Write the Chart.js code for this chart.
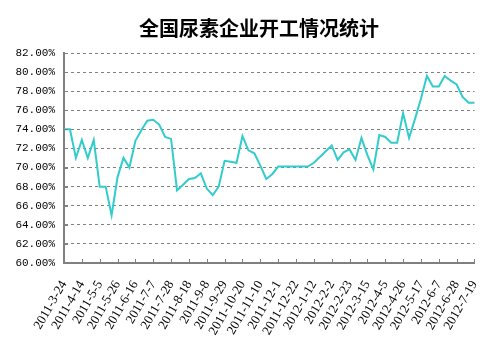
<!DOCTYPE html>
<html>
<head>
<meta charset="utf-8">
<script src="https://cdn.jsdelivr.net/npm/chart.js@4/dist/chart.umd.min.js"></script>
<style>
  html, body { margin: 0; padding: 0; background: #fff; }
  #wrap { width: 503px; height: 351px; }
</style>
</head>
<body>
<div id="wrap"><canvas id="chart"></canvas></div>
<script>
"use strict";

var chartTitle = '全国尿素企业开工情况统计';

var weeks = [
  '2011-3-24', '2011-3-31', '2011-4-7', '2011-4-14', '2011-4-21', '2011-4-28',
  '2011-5-5', '2011-5-12', '2011-5-19', '2011-5-26', '2011-6-2', '2011-6-9',
  '2011-6-16', '2011-6-23', '2011-6-30', '2011-7-7', '2011-7-14', '2011-7-21',
  '2011-7-28', '2011-8-4', '2011-8-11', '2011-8-18', '2011-8-25', '2011-9-1',
  '2011-9-8', '2011-9-15', '2011-9-22', '2011-9-29', '2011-10-6', '2011-10-13',
  '2011-10-20', '2011-10-27', '2011-11-3', '2011-11-10', '2011-11-17', '2011-11-24',
  '2011-12-1', '2011-12-8', '2011-12-15', '2011-12-22', '2011-12-29', '2012-1-5',
  '2012-1-12', '2012-1-19', '2012-1-26', '2012-2-2', '2012-2-9', '2012-2-16',
  '2012-2-23', '2012-3-1', '2012-3-8', '2012-3-15', '2012-3-22', '2012-3-29',
  '2012-4-5', '2012-4-12', '2012-4-19', '2012-4-26', '2012-5-3', '2012-5-10',
  '2012-5-17', '2012-5-24', '2012-5-31', '2012-6-7', '2012-6-14', '2012-6-21',
  '2012-6-28', '2012-7-5', '2012-7-12', '2012-7-19'
];

// operating rate, percent
var rates = [
  74, 74, 71, 72.9, 71, 72.9,
  68, 68, 65, 69, 71, 70,
  72.8, 73.9, 74.9, 75, 74.5, 73.2,
  73, 67.6, 68.2, 68.8, 68.9, 69.4,
  67.8, 67.1, 68, 70.7, 70.6, 70.5,
  73.3, 71.8, 71.5, 70.2, 68.8, 69.3,
  70.1, 70.1, 70.1, 70.1, 70.1, 70.1,
  70.5, 71.1, 71.7, 72.3, 70.8, 71.6,
  71.9, 70.8, 73.1, 71.3, 69.8, 73.4,
  73.2, 72.6, 72.6, 75.7, 73.1, 75.1,
  77.2, 79.6, 78.5, 78.5, 79.6, 79.1,
  78.7, 77.4, 76.8, 76.8
];

var yMin = 60;
var yMax = 82;
var yStep = 2;
var labelEvery = 3;

var lineColor = '#33CCCC';
var axisColor = '#808080';

// small tick marks pointing into the plot, like the original
var innerTicks = {
  id: 'innerTicks',
  afterDatasetsDraw: function(chart) {
    var ctx = chart.ctx;
    var area = chart.chartArea;
    var x = chart.scales.x;
    var y = chart.scales.y;
    ctx.save();
    ctx.strokeStyle = axisColor;
    ctx.lineWidth = 1;
    ctx.beginPath();
    for (var i = 0; i < weeks.length; i += labelEvery) {
      var px = Math.round(x.getPixelForValue(i)) + 0.5;
      ctx.moveTo(px, area.bottom);
      ctx.lineTo(px, area.bottom - 4);
    }
    for (var v = yMin; v <= yMax; v += yStep) {
      var py = Math.round(y.getPixelForValue(v)) + 0.5;
      ctx.moveTo(area.left, py);
      ctx.lineTo(area.left + 4, py);
    }
    ctx.stroke();
    ctx.restore();
  }
};

new Chart(document.getElementById('chart'), {
  type: 'line',
  data: {
    labels: weeks,
    datasets: [{
      data: rates,
      borderColor: lineColor,
      borderWidth: 2,
      pointRadius: 0,
      tension: 0,
      fill: false
    }]
  },
  options: {
    responsive: true,
    maintainAspectRatio: false,
    animation: false,
    layout: { padding: { left: 15, right: 0, top: 0, bottom: 0 } },
    plugins: {
      legend: { display: false },
      tooltip: { enabled: false },
      title: {
        display: true,
        text: chartTitle,
        color: '#000',
        font: { family: '"Noto Sans CJK SC"', size: 20, weight: 'bold' },
        padding: { top: 16, bottom: 13 }
      }
    },
    scales: {
      x: {
        offset: false,
        grid: { display: false, drawTicks: false },
        border: { color: axisColor, width: 2 },
        ticks: {
          autoSkip: false,
          maxRotation: 60,
          minRotation: 60,
          padding: 15,
          color: '#000',
          font: { family: '"Liberation Serif"', size: 13 },
          callback: function(value, index) {
            return index % labelEvery === 0 ? weeks[index] : '';
          }
        },
        afterFit: function(scale) { scale.height = 88; }
      },
      y: {
        min: yMin,
        max: yMax,
        grid: {
          color: axisColor,
          lineWidth: 1,
          drawTicks: false
        },
        border: { color: axisColor, width: 2, dash: [3, 3] },
        ticks: {
          stepSize: yStep,
          padding: 9,
          color: '#000',
          font: { family: '"Liberation Mono"', size: 11 },
          callback: function(value) { return value.toFixed(2) + '%'; }
        },
        afterFit: function(scale) { scale.width = 49; }
      },
      // empty right-hand axis, only keeps room right of the plot
      yr: {
        position: 'right',
        grid: { display: false, drawTicks: false },
        border: { display: false },
        ticks: { display: false },
        afterFit: function(scale) { scale.width = 26; }
      }
    }
  },
  plugins: [innerTicks]
});
</script>
</body>
</html>
